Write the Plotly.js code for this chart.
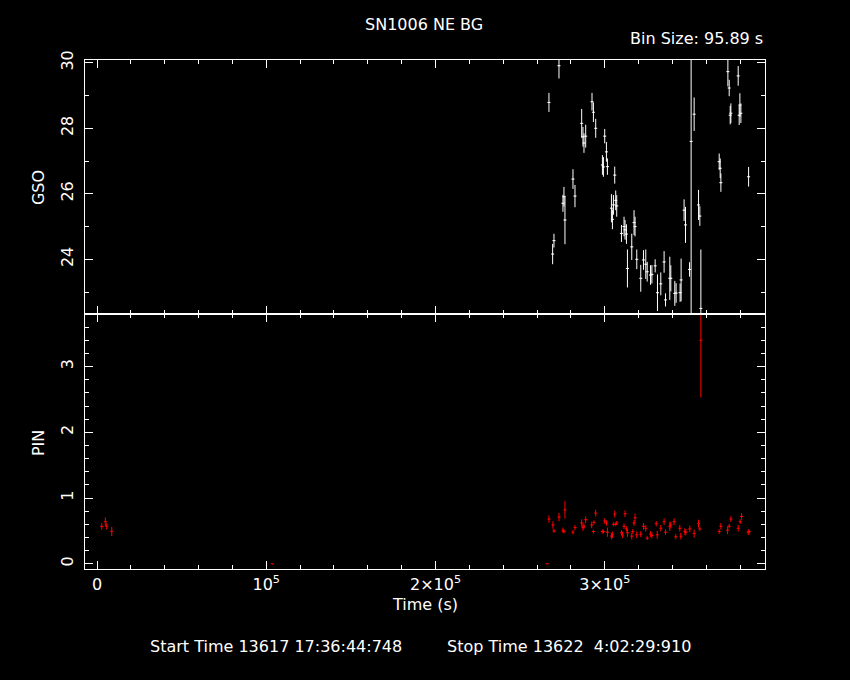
<!DOCTYPE html>
<html><head><meta charset="utf-8">
<script src="https://cdn.plot.ly/plotly-3.0.1.min.js"></script>
<style>html,body{margin:0;padding:0;background:#000;}</style>
</head><body><div id="chart" style="width:850px;height:680px;"></div>
<script>
const gsoTime = [267040,269220,270000,272960,275320,275910,276500,281230,282420,286380,287150,287740,288750,292480,293310,294670,298630,299220,299990,301000,301590,303960,304550,305140,305910,306500,307090,309870,311410,312000,312830,313420,315970,317330,317920,318930,321290,322890,324250,325090,327040,327870,329800,331170,333130,335080,335910,338450,339040,341400,342170,344540,345130,346900,347730,350100,351050,352830,355430,356200,356800,367630,368220,368630,372770,373540,374130,374540,378860,379450,379860,380450,385010];
const gsoRate = [28.79,24.16,24.57,29.91,25.71,25.91,25.20,26.45,25.93,28.15,27.74,27.55,27.76,28.81,28.49,28.00,26.88,26.82,27.76,27.28,26.83,25.56,25.22,25.66,26.57,25.80,25.63,24.79,25.00,24.90,24.77,23.72,24.38,25.12,25.00,24.00,23.42,23.98,23.85,23.62,23.52,23.54,23.80,22.98,23.25,23.92,22.76,23.42,23.42,22.96,22.97,22.98,23.37,25.50,25.05,23.69,27.60,28.43,25.66,25.32,22.50,26.98,26.78,26.34,29.73,29.23,28.40,28.46,29.60,28.40,28.71,28.46,26.52];
const gsoErr = [0.29,0.31,0.21,0.39,0.26,0.30,0.74,0.30,0.34,0.44,0.30,0.30,0.35,0.27,0.30,0.29,0.30,0.30,0.22,0.30,0.25,0.43,0.30,0.30,0.26,0.30,0.33,0.26,0.30,0.30,0.30,0.58,0.40,0.38,0.30,0.30,0.41,0.30,0.45,0.30,0.30,0.28,0.20,0.56,0.35,0.33,0.20,0.66,0.40,0.38,0.30,0.28,0.65,0.33,0.55,0.22,6.00,0.51,0.46,0.30,1.80,0.25,0.30,0.28,0.45,0.25,0.28,0.30,0.30,0.30,0.36,0.30,0.30];

const pinTime = [2780,4910,5740,8700,103550,265970,267040,269410,270000,272960,275320,275910,276500,281230,282420,286380,287150,287740,288750,292300,293310,293660,294670,298630,299220,299990,301000,301590,303960,304550,305140,305910,306500,307090,309870,310460,311410,312000,312830,313420,315970,316560,317330,317920,318930,321290,322890,324250,325090,327040,327870,330420,331010,333130,335080,335910,338450,339040,341000,342000,344360,344950,347320,347910,350270,352830,355430,356200,356800,367630,368630,372590,373540,374540,378860,380040,380870,384780,385370];
const pinRate = [0.568,0.64,0.57,0.49,0.0,0.0,0.68,0.59,0.50,0.71,0.51,0.49,0.82,0.48,0.55,0.62,0.55,0.57,0.67,0.59,0.49,0.63,0.77,0.49,0.49,0.65,0.62,0.48,0.42,0.44,0.60,0.756,0.60,0.62,0.47,0.44,0.57,0.76,0.53,0.47,0.42,0.49,0.62,0.70,0.44,0.45,0.57,0.54,0.39,0.45,0.43,0.61,0.44,0.54,0.64,0.48,0.57,0.59,0.64,0.41,0.54,0.42,0.49,0.48,0.53,0.46,0.61,0.53,3.40,0.49,0.57,0.51,0.57,0.68,0.54,0.64,0.72,0.48,0.49];
const pinErr = [0.05,0.065,0.05,0.07,0,0,0.056,0.058,0.03,0.063,0.04,0.03,0.134,0.035,0.04,0.056,0.05,0.04,0.05,0.05,0.03,0.03,0.05,0.03,0.03,0.04,0.04,0.07,0.05,0.05,0.03,0.05,0.03,0.03,0.04,0.05,0.04,0.05,0.04,0.06,0.05,0.035,0.045,0.063,0.05,0.045,0.05,0.05,0.03,0.045,0.045,0.04,0.06,0.05,0.05,0.04,0.07,0.05,0.05,0.04,0.05,0.05,0.05,0.05,0.05,0.06,0.06,0.03,0.87,0.035,0.05,0.06,0.035,0.045,0.05,0.035,0.05,0.045,0.03];

const xTickVals = [0,100000,200000,300000];
const xTickText = ['0','10<sup>5</sup>','2×10<sup>5</sup>','3×10<sup>5</sup>'];
const gsoTickVals = [24,26,28,30];
const pinTickVals = [0,1,2,3];

const FONT = 'DejaVu Sans, Liberation Sans, sans-serif';
const FS = 16;
const W = '#ffffff';

const traces = [
  {
    x: gsoTime, y: gsoRate, xaxis: 'x2', yaxis: 'y2', type: 'scatter', mode: 'markers',
    marker: {size: 1, color: W},
    error_y: {type: 'data', array: gsoErr, visible: true, color: W, thickness: 1, width: 0},
    error_x: {type: 'constant', value: 900, visible: true, color: W, thickness: 1, width: 0},
    hoverinfo: 'skip', showlegend: false
  },
  {
    x: pinTime, y: pinRate, xaxis: 'x', yaxis: 'y', type: 'scatter', mode: 'markers',
    marker: {size: 1, color: '#ff0000'},
    error_y: {type: 'data', array: pinErr, visible: true, color: '#ff0000', thickness: 1, width: 0},
    error_x: {type: 'constant', value: 900, visible: true, color: '#ff0000', thickness: 1, width: 0},
    hoverinfo: 'skip', showlegend: false
  }
];

const axBase = {
  showline: true, linecolor: W, linewidth: 1, mirror: 'allticks',
  ticks: 'inside', ticklen: 8, tickwidth: 1, tickcolor: W,
  showgrid: false, zeroline: false,
  tickfont: {family: FONT, size: FS, color: W}
};

const layout = {
  width: 850, height: 680,
  paper_bgcolor: '#000', plot_bgcolor: '#000',
  margin: {l: 85, r: 85, t: 60, b: 111},
  font: {family: FONT, color: W, size: FS},
  showlegend: false,
  xaxis: Object.assign({}, axBase, {
    anchor: 'y', domain: [0, 1], range: [-7100, 394700],
    tickmode: 'array', tickvals: xTickVals, ticktext: xTickText,
    minor: {dtick: 20000, ticklen: 4, tickcolor: W, tickwidth: 1, ticks: 'inside'},
    ticklabelstandoff: 1
  }),
  xaxis2: Object.assign({}, axBase, {
    anchor: 'y2', domain: [0, 1], matches: 'x', range: [-7100, 394700],
    tickmode: 'array', tickvals: xTickVals, showticklabels: false,
    minor: {dtick: 20000, ticklen: 4, tickcolor: W, tickwidth: 1, ticks: 'inside'}
  }),
  yaxis: Object.assign({}, axBase, {
    anchor: 'x', domain: [0, 0.501], range: [-0.08, 3.80],
    tickmode: 'array', tickvals: pinTickVals, tickangle: -90,
    minor: {dtick: 0.2, ticklen: 4, tickcolor: W, tickwidth: 1, ticks: 'inside'},
    ticklabelstandoff: 5
  }),
  yaxis2: Object.assign({}, axBase, {
    anchor: 'x2', domain: [0.501, 1], range: [22.33, 30.085],
    tickmode: 'array', tickvals: gsoTickVals, tickangle: -90,
    minor: {dtick: 1, ticklen: 4, tickcolor: W, tickwidth: 1, ticks: 'inside'},
    ticklabelstandoff: 5
  }),
  annotations: [
    {text: 'SN1006 NE BG', xref: 'paper', yref: 'paper', x: 0.4985, y: 1.0707, xanchor: 'center', yanchor: 'middle', showarrow: false, font: {size: FS, color: W, family: FONT}},
    {text: 'Bin Size: 95.89 s', xref: 'paper', yref: 'paper', x: 1.0, y: 1.0422, xanchor: 'right', yanchor: 'middle', showarrow: false, font: {size: FS, color: W, family: FONT}},
    {text: 'GSO', xref: 'paper', yref: 'paper', x: -0.069, y: 0.7485, xanchor: 'center', yanchor: 'middle', textangle: -90, showarrow: false, font: {size: FS, color: W, family: FONT}},
    {text: 'PIN', xref: 'paper', yref: 'paper', x: -0.069, y: 0.2475, xanchor: 'center', yanchor: 'middle', textangle: -90, showarrow: false, font: {size: FS, color: W, family: FONT}},
    {text: 'Time (s)', xref: 'paper', yref: 'paper', x: 0.5, y: -0.0707, xanchor: 'center', yanchor: 'middle', showarrow: false, font: {size: FS, color: W, family: FONT}},
    {text: 'Start Time 13617 17:36:44:748', xref: 'paper', yref: 'paper', x: 0.0926, y: -0.1526, xanchor: 'left', yanchor: 'middle', showarrow: false, font: {size: FS, color: W, family: FONT}},
    {text: 'Stop Time 13622  4:02:29:910', xref: 'paper', yref: 'paper', x: 0.5294, y: -0.1526, xanchor: 'left', yanchor: 'middle', showarrow: false, font: {size: FS, color: W, family: FONT}}
  ]
};

Plotly.newPlot('chart', traces, layout, {displayModeBar: false, staticPlot: true});
</script>
</body></html>
